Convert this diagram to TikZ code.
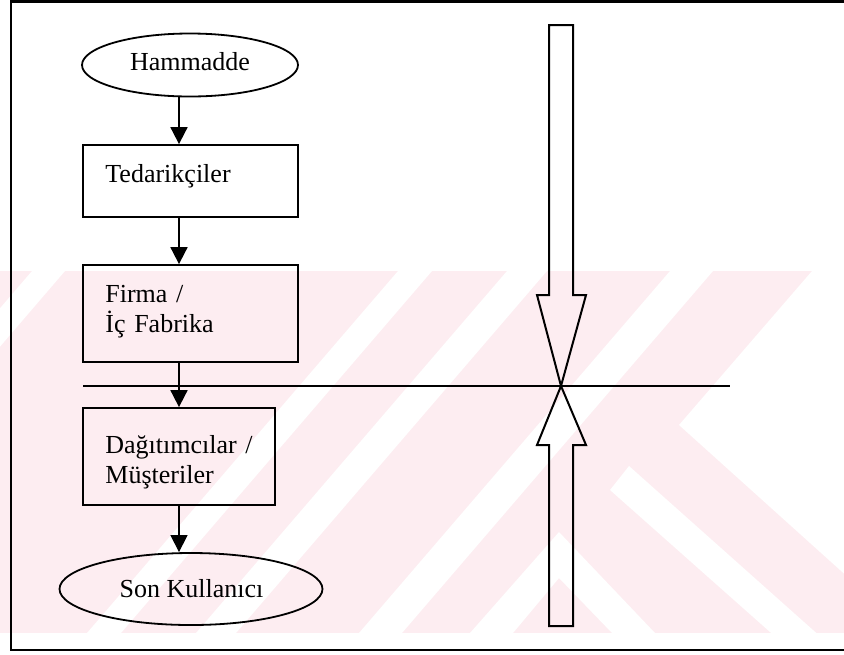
\documentclass[tikz,border=0pt]{standalone}
\usepackage{fontspec}
\setmainfont{Liberation Serif}
\usetikzlibrary{shapes.geometric,arrows.meta}
\definecolor{wmpink}{RGB}{253,237,241}
\begin{document}
\begin{tikzpicture}[x=0.5pt,y=-0.5pt,
  every node/.style={font=\fontsize{13pt}{15pt}\selectfont},
  box/.style={draw,line width=0.9pt,inner sep=0pt},
  oval/.style={draw,ellipse,line width=0.9pt,inner sep=0pt},
  lbl/.style={anchor=base west,inner sep=0pt,align=left,text width=100pt},
  ctr/.style={anchor=base,inner sep=0pt},
  flow/.style={line width=0.9pt,-{Triangle[length=8.5pt,width=8.5pt]}},
  thinflow/.style={flow,line width=0.6pt},
  fat/.style={draw,line width=1pt,line join=miter}]
\useasboundingbox (0,0) rectangle (844,654);

% background stripes
\begin{scope}
  \clip (0,271) rectangle (844,633);
  \fill[wmpink] (0,271) rectangle (844,633);
  \fill[white] (32,271) -- (65,271) -- (-246,633) -- (-279,633) -- cycle;
  \fill[white] (398,271) -- (432,271) -- (121,633) -- (87,633) -- cycle;
  \fill[white] (507,271) -- (547,271) -- (236,633) -- (196,633) -- cycle;
  \fill[white] (670,271) -- (713,271) -- (402,633) -- (359,633) -- cycle;
  \fill[white] (812,271) -- (850,271) -- (850,579) -- (679,425) -- cycle;
  \fill[white] (629,466) -- (850,663) -- (850,703) -- (610,490) -- cycle;
  \fill[white] (470,633) -- (559,532) -- (655,633) -- (612,633) -- (559,578) -- (513,633) -- cycle;
\end{scope}

% frame
\draw[line width=1.3pt] (846,1.5) -- (11,1.5) -- (11,650) -- (846,650);

% flow chart
\node[oval, minimum width=108pt, minimum height=31.5pt] (ham) at (190,65) {};
\node[ctr] (hamtxt) at (190,70) {Hammadde};

\node[box, minimum width=107.5pt, minimum height=36pt] (ted) at (190.5,181) {};
\node[lbl] (tedtxt) at (105,182) {Tedarikçiler};

\node[box, minimum width=107.5pt, minimum height=48.5pt] (fir) at (190.5,313.5) {};
\node[lbl] (firtxt) at (105,302) {Firma /\\İç Fabrika};

\node[box, minimum width=96pt, minimum height=48.5pt] (dag) at (179,456.5) {};
\node[lbl] (dagtxt) at (105,453) {Dağıtımcılar /\\Müşteriler};

\node[oval, minimum width=131.5pt, minimum height=36pt] (son) at (191,589) {};
\node[ctr] (sontxt) at (191.5,597) {Son Kullanıcı};

\draw[flow] (ham.south -| dag.north) -- (ted.north -| dag.north);
\draw[flow] (ted.south -| dag.north) -- (fir.north -| dag.north);
\draw[flow] (fir.south -| dag.north) -- (dag.north);
\draw[thinflow] (dag.south) -- (son.north -| dag.south);

% dividing line and the two opposing arrows
\coordinate (hl) at (83,386);
\coordinate (hr) at (730,386);
\coordinate (cross) at (561,386);
\draw[line width=1pt] (hl) -- (hr);
\draw[fat] (549,25) -- (573,25) -- (573,295) -- (586,295) -- (cross) -- (537,295) -- (549,295) -- cycle;
\draw[fat] (549,626) -- (573,626) -- (573,445) -- (586,445) -- (cross) -- (537,445) -- (549,445) -- cycle;
\end{tikzpicture}
\end{document}
